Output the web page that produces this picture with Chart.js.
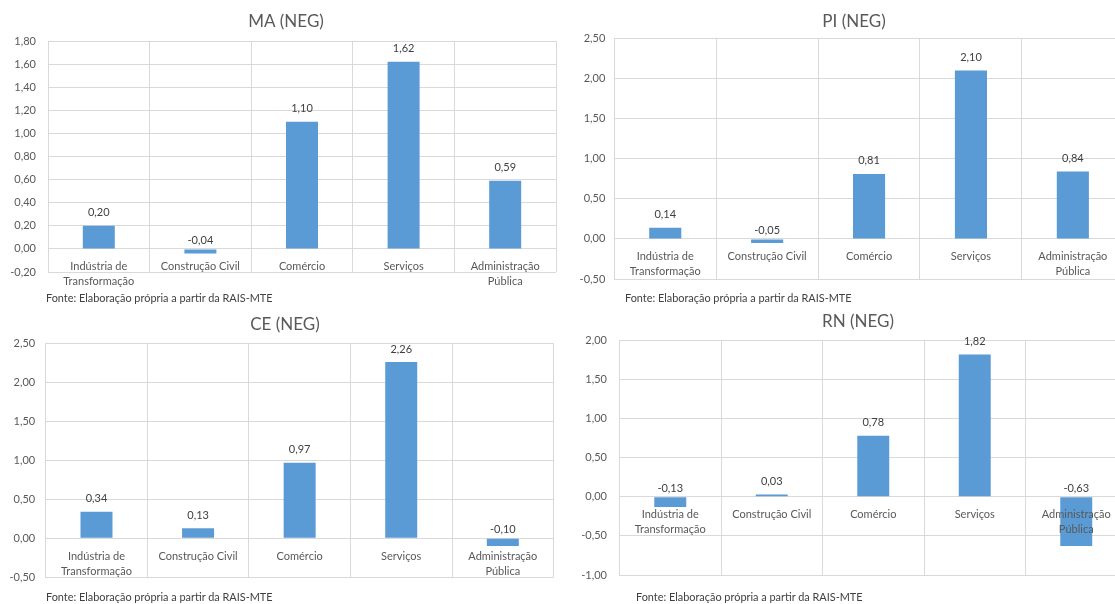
<!DOCTYPE html>
<html>
<head>
<meta charset="utf-8">
<script src="https://cdn.jsdelivr.net/npm/chart.js@4.4.1/dist/chart.umd.min.js"></script>
<style>
  html, body { margin: 0; padding: 0; background: #fff; width: 1115px; height: 604px; overflow: hidden; }
  canvas { position: absolute; }
  .fonte { position: absolute; font-family: Lato, "Open Sans", sans-serif; font-size: 10.9px; line-height: 12px; color: #404040; white-space: nowrap; }
</style>
</head>
<body>
<canvas id="graficoMA"></canvas>
<canvas id="graficoPI"></canvas>
<canvas id="graficoCE"></canvas>
<canvas id="graficoRN"></canvas>
<div class="fonte" id="fonteMA"></div>
<div class="fonte" id="fontePI"></div>
<div class="fonte" id="fonteCE"></div>
<div class="fonte" id="fonteRN"></div>
<script>
// Setores de atividade (eixo das categorias)
const setores = [['Indústria de', 'Transformação'], 'Construção Civil', 'Comércio', 'Serviços', ['Administração', 'Pública']];

// Valores por estado
const valoresMA = [0.20, -0.04, 1.10, 1.62, 0.59];
const valoresPI = [0.14, -0.05, 0.81, 2.10, 0.84];
const valoresCE = [0.34, 0.13, 0.97, 2.26, -0.10];
const valoresRN = [-0.13, 0.03, 0.78, 1.82, -0.63];

// Escala do eixo vertical: [mínimo, máximo, passo]
const escalaMA = [-0.20, 1.80, 0.20];
const escalaPI = [-0.50, 2.50, 0.50];
const escalaCE = [-0.50, 2.50, 0.50];
const escalaRN = [-1.00, 2.00, 0.50];

const titulos = ['MA (NEG)', 'PI (NEG)', 'CE (NEG)', 'RN (NEG)'];
const textoFonte = 'Fonte: Elaboração própria a partir da RAIS-MTE';

const FAMILIA = 'Lato, "Open Sans", sans-serif';
const CINZA_TEXTO = '#595959';
const CINZA_GRADE = '#d9d9d9';
const AZUL = '#5b9bd5';

function formatar(v) {
  if (Math.abs(v) < 1e-9) v = 0;
  return v.toFixed(2).replace('.', ',');
}

// Rótulos de valor sobre as barras
const rotulosValores = {
  id: 'rotulosValores',
  afterDraw(chart) {
    const ctx = chart.ctx;
    const meta = chart.getDatasetMeta(0);
    const zero = chart.scales.y.getPixelForValue(0);
    const dados = chart.data.datasets[0].data;
    ctx.save();
    ctx.font = '11px ' + FAMILIA;
    ctx.fillStyle = '#404040';
    ctx.textAlign = 'center';
    ctx.textBaseline = 'middle';
    meta.data.forEach((barra, i) => {
      const v = dados[i];
      const y = v >= 0 ? barra.y - 13 : zero - 8.5;
      ctx.fillText(formatar(v), barra.x, y);
    });
    ctx.restore();
  }
};

// Título de cada painel, centrado sobre a área do gráfico completo
const tituloPainel = {
  id: 'tituloPainel',
  afterDraw(chart, args, opts) {
    const ctx = chart.ctx;
    ctx.save();
    ctx.font = '17px ' + FAMILIA;
    ctx.fillStyle = CINZA_TEXTO;
    ctx.textAlign = 'center';
    ctx.textBaseline = 'middle';
    ctx.fillText(opts.text, opts.x, opts.y);
    ctx.restore();
  }
};

function painel(id, titulo, valores, escala, g) {
  const canvas = document.getElementById(id);
  canvas.width = g.w;
  canvas.height = g.h;
  canvas.style.left = g.left + 'px';
  canvas.style.top = g.top + 'px';
  return new Chart(canvas, {
    type: 'bar',
    data: {
      labels: setores,
      datasets: [{
        data: valores,
        backgroundColor: AZUL,
        borderWidth: 0,
        categoryPercentage: 1,
        barPercentage: 0.315
      }]
    },
    options: {
      responsive: false,
      animation: false,
      events: [],
      layout: { padding: { left: 0, right: g.padR, top: g.padT, bottom: g.padB } },
      plugins: {
        legend: { display: false },
        tooltip: { enabled: false },
        title: { display: false },
        tituloPainel: { text: titulo, x: g.tx, y: g.ty }
      },
      scales: {
        x: {
          position: { y: 0 },
          grid: { color: CINZA_GRADE, lineWidth: 1, drawTicks: false, offset: true },
          border: { color: CINZA_GRADE, width: 1 },
          ticks: {
            z: 1,
            color: CINZA_TEXTO,
            font: { family: FAMILIA, size: 11, lineHeight: '15px' },
            padding: 10.5,
            maxRotation: 0,
            autoSkip: false
          }
        },
        y: {
          min: escala[0],
          max: escala[1],
          grid: { color: CINZA_GRADE, lineWidth: 1, drawTicks: false },
          border: { color: CINZA_GRADE, width: 1 },
          afterFit(s) { s.width = g.yW; },
          ticks: {
            stepSize: escala[2],
            color: CINZA_TEXTO,
            font: { family: FAMILIA, size: 11 },
            padding: g.tickPad,
            callback: (v) => formatar(v)
          }
        }
      }
    },
    plugins: [rotulosValores, tituloPainel]
  });
}

painel('graficoMA', titulos[0], valoresMA, escalaMA,
  { left: 0, top: 0, w: 572, h: 292, padR: 16, padT: 41, padB: 20, yW: 48, tx: 286, ty: 22, tickPad: 12 });
painel('graficoPI', titulos[1], valoresPI, escalaPI,
  { left: 560, top: 0, w: 580, h: 299, padR: 16.2, padT: 38.3, padB: 20, yW: 54.3, tx: 294, ty: 22, tickPad: 9 });
painel('graficoCE', titulos[2], valoresCE, escalaCE,
  { left: 0, top: 300, w: 570, h: 297, padR: 16.4, padT: 43.3, padB: 19.7, yW: 45.7, tx: 285, ty: 25, tickPad: 10.5 });
painel('graficoRN', titulos[3], valoresRN, escalaRN,
  { left: 560, top: 300, w: 583, h: 295, padR: 16, padT: 40.5, padB: 20, yW: 59.5, tx: 298, ty: 22, tickPad: 12.5 });

// Nota de fonte sob cada gráfico
[['fonteMA', 46, 292], ['fontePI', 625, 292], ['fonteCE', 46, 591], ['fonteRN', 636, 591]].forEach(([id, x, y]) => {
  const el = document.getElementById(id);
  el.textContent = textoFonte;
  el.style.left = x + 'px';
  el.style.top = y + 'px';
});
</script>
</body>
</html>
